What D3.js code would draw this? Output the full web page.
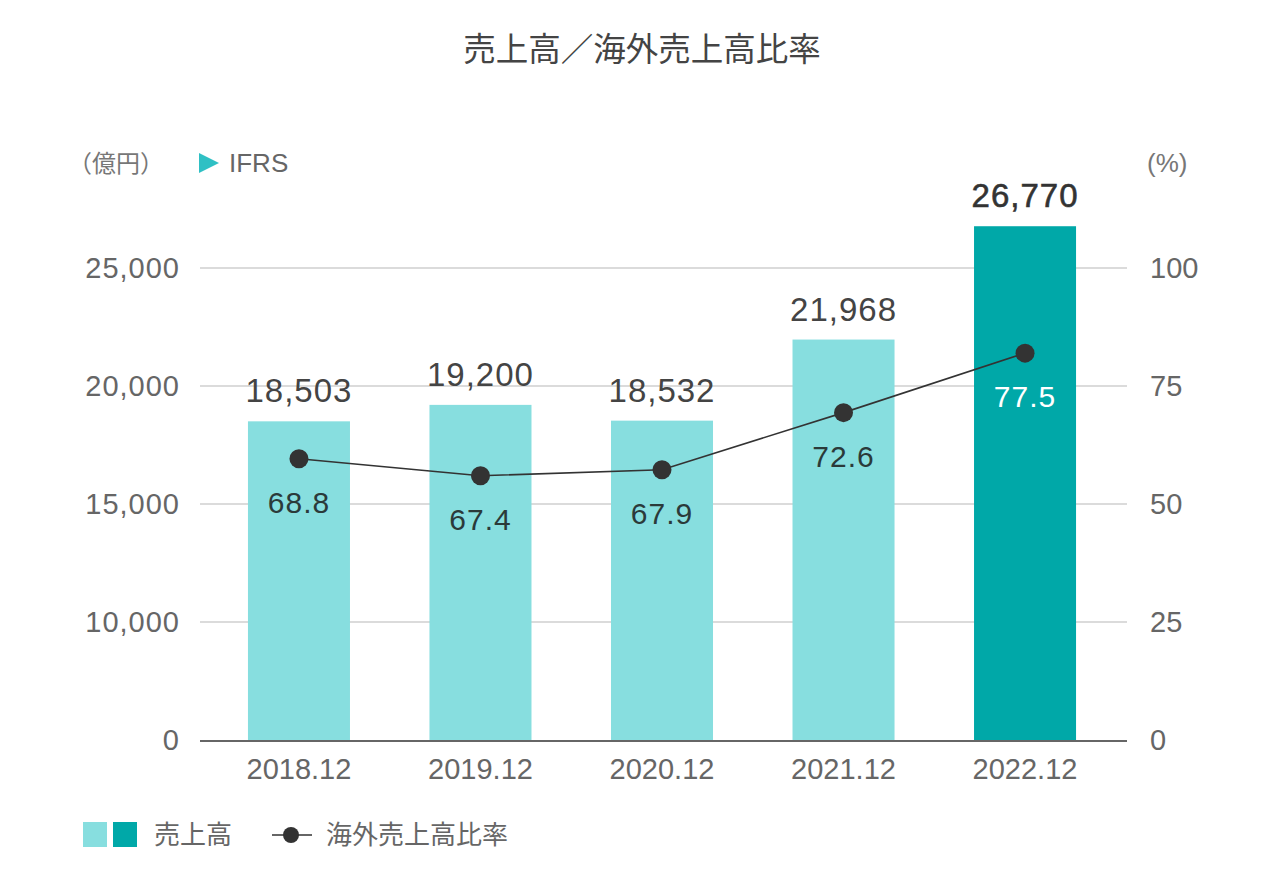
<!DOCTYPE html>
<html><head><meta charset="utf-8">
<script src="https://cdn.jsdelivr.net/npm/d3@7"></script>
<style>
html,body{margin:0;padding:0;background:#fff;}
text{font-family:"Liberation Sans","Noto Sans CJK JP",sans-serif;}
.cjk{font-family:"Noto Sans CJK JP","Liberation Sans",sans-serif;}
</style></head>
<body>
<svg id="chart" width="1279" height="871"></svg>
<script>
const categories = ["2018.12","2019.12","2020.12","2021.12","2022.12"];
const sales = [18503, 19200, 18532, 21968, 26770];
const overseasRatio = [68.8, 67.4, 67.9, 72.6, 77.5];
// left axis is broken: the baseline (labelled 0) stands at 5,000
const leftTicks = [5000, 10000, 15000, 20000, 25000];
const leftTickLabels = ["0", "10,000", "15,000", "20,000", "25,000"];
const rightTicks = [0, 25, 50, 75, 100];
const title = "売上高／海外売上高比率";
const leftUnit = "（億円）";
const rightUnit = "(%)";
const note = "IFRS";
const legendLabels = ["売上高", "海外売上高比率"];

const svg = d3.select("#chart");
const lightTeal = "#87dedf", darkTeal = "#00a8a8";

const x = d3.scaleBand().domain(categories).range([193.5, 1130.5]).paddingInner(0.438).paddingOuter(0.3);
const yLeft = d3.scaleLinear().domain([5000, 25000]).range([740, 268]);
const yRight = d3.scaleLinear().domain([0, 100]).range([740, 268]);
// the ratio line is drawn on its own display scale (as in the original infographic)
const yLine = d3.scaleLinear().domain([60, 80]).range([565.6, 322.8]);

// title
svg.append("text").attr("class","cjk").attr("x", 642).attr("y", 61).attr("text-anchor","middle")
  .attr("font-size", 32.5).attr("fill", "#444").text(title);

// gridlines
svg.append("g").selectAll("line").data(leftTicks.slice(1)).join("line")
  .attr("x1", 200).attr("x2", 1127).attr("y1", d=>yLeft(d)).attr("y2", d=>yLeft(d))
  .attr("stroke", "#cfcfcf").attr("stroke-width", 1.5);

// left axis
const gl = svg.append("g").attr("transform","translate(180,0)")
  .call(d3.axisLeft(yLeft).tickValues(leftTicks).tickSize(0).tickPadding(0)
    .tickFormat((d,i)=>leftTickLabels[i]));
gl.select(".domain").remove();
gl.selectAll("text").attr("font-size", 29).attr("fill", "#666").attr("letter-spacing", "1px")
  .attr("font-family", "Liberation Sans");

// right axis
const gr = svg.append("g").attr("transform","translate(1150,0)")
  .call(d3.axisRight(yRight).tickValues(rightTicks).tickSize(0).tickPadding(0));
gr.select(".domain").remove();
gr.selectAll("text").attr("font-size", 29).attr("fill", "#666").attr("font-family", "Liberation Sans");

// units
svg.append("text").attr("class","cjk").attr("x", 68).attr("y", 172).attr("font-size", 24).attr("fill","#777").text(leftUnit);
svg.append("path").attr("d", "M199,153 L219,163 L199,173 Z").attr("fill", "#2fc0c4");
svg.append("text").attr("x", 229).attr("y", 172).attr("font-size", 26).attr("fill","#666").text(note);
svg.append("text").attr("x", 1147).attr("y", 172).attr("font-size", 26).attr("fill","#777").text(rightUnit);

// bars
svg.append("g").selectAll("rect").data(sales).join("rect")
  .attr("x", (d,i)=>x(categories[i])).attr("width", x.bandwidth())
  .attr("y", d=>yLeft(d)).attr("height", d=>yLeft(5000) - yLeft(d))
  .attr("fill", (d,i)=> i === sales.length-1 ? darkTeal : lightTeal);

// bar value labels
svg.append("g").selectAll("text").data(sales).join("text")
  .attr("x", (d,i)=>x(categories[i]) + x.bandwidth()/2).attr("y", d=>yLeft(d) - 19)
  .attr("text-anchor","middle").attr("font-size", 33).attr("letter-spacing","1px")
  .attr("fill", (d,i)=> i === sales.length-1 ? "#333" : "#444")
  .attr("stroke", (d,i)=> i === sales.length-1 ? "#333" : "none")
  .attr("stroke-width", 0.6)
  .text(d=>d3.format(",")(d));

// x axis baseline
svg.append("line").attr("x1", 200).attr("x2", 1127).attr("y1", 741).attr("y2", 741)
  .attr("stroke", "#666").attr("stroke-width", 2);

// x labels
svg.append("g").selectAll("text").data(categories).join("text")
  .attr("x", d=>x(d) + x.bandwidth()/2).attr("y", 779).attr("text-anchor","middle")
  .attr("font-size", 29).attr("fill", "#666").text(d=>d);

// line
const pts = overseasRatio.map((v,i)=>[x(categories[i]) + x.bandwidth()/2, yLine(v)]);
svg.append("path").attr("d", d3.line()(pts))
  .attr("fill","none").attr("stroke","#333").attr("stroke-width", 1.6);
svg.append("g").selectAll("circle").data(pts).join("circle")
  .attr("cx", d=>d[0]).attr("cy", d=>d[1]).attr("r", 9.5).attr("fill", "#333");

// ratio labels
svg.append("g").selectAll("text").data(overseasRatio).join("text")
  .attr("x", (d,i)=>pts[i][0]).attr("y", (d,i)=>pts[i][1] + 54).attr("text-anchor","middle")
  .attr("font-size", 30).attr("letter-spacing","1px")
  .attr("fill", (d,i)=> i === overseasRatio.length-1 ? "#ffffff" : "#2b3a3a")
  .text(d=>d.toFixed(1));

// legend
svg.append("rect").attr("x", 83).attr("y", 822).attr("width", 24).attr("height", 25).attr("fill", lightTeal);
svg.append("rect").attr("x", 113).attr("y", 822).attr("width", 24).attr("height", 25).attr("fill", darkTeal);
svg.append("text").attr("class","cjk").attr("x", 154).attr("y", 844).attr("font-size", 26).attr("fill","#666").text(legendLabels[0]);
svg.append("line").attr("x1", 272).attr("x2", 312).attr("y1", 835).attr("y2", 835).attr("stroke","#333").attr("stroke-width", 1.6);
svg.append("circle").attr("cx", 291).attr("cy", 835).attr("r", 8).attr("fill","#333");
svg.append("text").attr("class","cjk").attr("x", 326).attr("y", 844).attr("font-size", 26).attr("fill","#666").text(legendLabels[1]);
</script>
</body></html>
